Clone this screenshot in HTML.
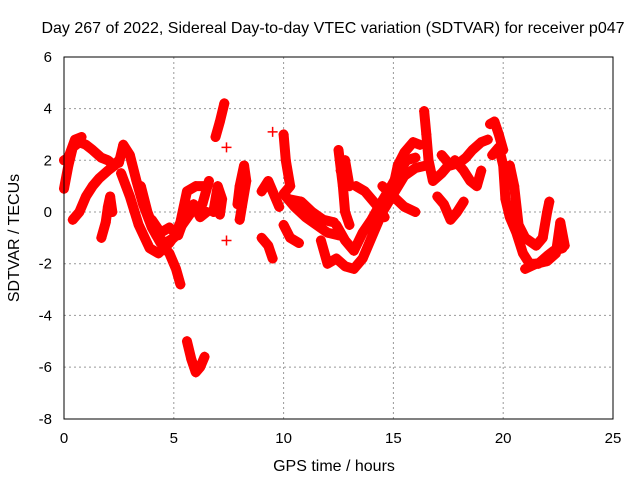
<!DOCTYPE html>
<html><head><meta charset="utf-8"><style>
body{margin:0;background:#fff;}
svg{display:block;font-family:"Liberation Sans",sans-serif;}
</style></head><body>
<svg id="chart" width="640" height="480">
<text x="333" y="33" text-anchor="middle" font-size="16">Day 267 of 2022, Sidereal Day-to-day VTEC variation (SDTVAR) for receiver p047</text>
<text x="334" y="471" text-anchor="middle" font-size="16">GPS time / hours</text>
<text transform="translate(19,238) rotate(-90)" text-anchor="middle" font-size="16">SDTVAR / TECUs</text>
<g id="grid"></g><g id="ticks"></g><g id="marks"></g>
<rect x="64" y="57" width="549" height="362" fill="none" stroke="#000" stroke-width="1"/>
</svg>
<script>
const xTicks=[0,5,10,15,20,25];
const yTicks=[-8,-6,-4,-2,0,2,4,6];
const tracks=[
[[0,0.9],[0.2,1.8],[0.4,2.5],[0.7,2.7],[1.0,2.6],[1.3,2.4],[1.7,2.1],[2.0,2.0],[2.3,1.8],[2.5,2.0]],
[[0.4,-0.3],[0.7,0.0],[1.0,0.6],[1.3,1.0],[1.6,1.3],[2.0,1.6],[2.3,1.8]],
[[0,2.0],[0.2,2.1],[0.5,2.8],[0.8,2.9]],
[[1.7,-1.0],[1.9,-0.4],[2.0,0.2],[2.1,0.6],[2.2,0.0]],
[[2.5,1.9],[2.7,2.6],[3.0,2.2],[3.3,1.2],[3.6,0.3],[4.0,-0.6],[4.4,-1.2],[4.8,-1.6],[5.1,-2.2],[5.3,-2.8]],
[[3.5,1.0],[3.8,0.0],[4.2,-0.9],[4.6,-1.2],[5.0,-1.0],[5.3,-0.4],[5.6,0.8],[6.0,1.0],[6.4,1.0]],
[[2.6,1.5],[3.0,0.6],[3.4,-0.5],[3.9,-1.4],[4.3,-1.6],[4.8,-1.2],[5.3,-0.6],[5.8,0.0],[6.3,0.3],[6.6,1.2]],
[[4.0,-0.3],[4.4,-0.8],[4.8,-0.6],[5.2,-0.9],[5.5,-0.2],[5.9,0.3],[6.2,-0.2],[6.5,0.0]],
[[5.6,-5.0],[5.8,-5.7],[6.0,-6.2],[6.2,-6.0],[6.4,-5.6]],
[[6.9,2.9],[7.1,3.5],[7.3,4.2]],
[[6.8,0.0],[7.0,1.0],[7.2,0.5],[7.1,-0.1]],
[[7.9,0.3],[8.0,1.0],[8.2,1.8],[8.3,1.2],[8.1,0.2],[8.0,-0.3]],
[[9.0,0.8],[9.3,1.2],[9.5,0.8],[9.8,0.2]],
[[9.0,-1.0],[9.3,-1.3],[9.5,-1.8]],
[[10.0,3.0],[10.1,2.0],[10.3,1.0],[10.0,0.7],[10.5,0.2],[11.0,-0.2],[11.5,-0.5],[12.0,-0.8],[12.5,-0.9]],
[[10.2,0.5],[10.8,0.4],[11.3,0.0],[11.8,-0.3],[12.3,-0.4]],
[[10.0,-0.5],[10.3,-1.0],[10.7,-1.2]],
[[11.7,-1.1],[12.0,-2.0],[12.4,-1.8],[12.8,-2.1],[13.2,-2.2],[13.6,-1.8],[14.0,-1.0],[14.5,0.0],[15.0,0.7],[15.5,1.4],[16.0,1.7],[16.5,1.8]],
[[12.4,-0.5],[12.8,-1.1],[13.2,-1.5],[13.6,-0.8],[14.0,-0.3],[14.4,0.3],[14.9,1.0],[15.3,1.6],[15.6,2.0],[16.0,2.1]],
[[12.5,2.4],[12.7,1.0],[12.8,0.0],[13.0,-0.5]],
[[12.6,1.6],[12.8,2.0],[13.0,1.0]],
[[13.3,1.0],[13.7,0.8],[14.2,0.3],[14.6,-0.2]],
[[14.5,1.0],[15.0,0.6],[15.5,0.2],[16.0,0.0]],
[[15.0,1.0],[15.2,1.8],[15.5,2.3],[15.9,2.7],[16.2,2.6]],
[[16.4,3.9],[16.5,3.0],[16.6,2.0],[16.8,1.2],[17.2,1.5],[17.5,1.8]],
[[17.0,0.6],[17.3,0.3],[17.6,-0.3],[17.9,0.0],[18.2,0.4]],
[[17.2,2.2],[17.6,1.8],[18.0,1.9],[18.3,2.1],[18.6,2.4],[19.0,2.7],[19.3,2.8]],
[[17.8,2.0],[18.2,1.6],[18.5,1.2],[18.8,1.0],[19.0,1.6]],
[[19.4,3.4],[19.6,3.5],[19.8,3.0],[20.0,2.4]],
[[19.5,2.2],[19.8,2.5],[20.0,1.8],[20.1,0.5],[20.3,-0.2],[20.6,-0.8],[20.9,-1.6],[21.2,-2.0],[21.6,-2.0],[22.0,-1.7],[22.3,-1.5],[22.7,-1.4]],
[[20.3,1.8],[20.5,1.0],[20.7,-0.5],[21.0,-1.0],[21.5,-1.3],[21.8,-1.0],[22.0,0.0],[22.1,0.4]],
[[21.0,-2.2],[21.5,-2.0],[22.0,-1.9],[22.4,-1.6],[22.6,-0.4],[22.8,-1.3]],
[[7.4,2.5]],[[7.4,-1.1]],[[9.5,3.1]]
];
const X=v=>64+v*549/25;
const Y=v=>212-v*362/14;
const NS="http://www.w3.org/2000/svg";
const grid=document.getElementById('grid'),ticks=document.getElementById('ticks'),marks=document.getElementById('marks');
function mk(tag,attrs,parent){const e=document.createElementNS(NS,tag);for(const k in attrs)e.setAttribute(k,attrs[k]);parent.appendChild(e);return e;}
xTicks.forEach(t=>{
 if(t>0&&t<25){const g=mk('line',{x1:X(t),x2:X(t),y1:57,y2:419,stroke:'#999','stroke-dasharray':'2,3'},grid);
 
 }
 const l=mk('text',{x:X(t),y:443,'text-anchor':'middle','font-size':'15'},ticks);l.textContent=t;
 
 
});
yTicks.forEach(t=>{
 if(t>-8&&t<6){const g=mk('line',{x1:64,x2:613,y1:Y(t),y2:Y(t),stroke:'#999','stroke-dasharray':'2,3'},grid);
 
 }
 const l=mk('text',{x:52,y:Y(t)+5,'text-anchor':'end','font-size':'15'},ticks);l.textContent=t;
 
 
});
tracks.forEach(tr=>{
 if(tr.length>1){const p=mk('polyline',{points:tr.map(d=>X(d[0])+','+Y(d[1])).join(' '),fill:'none',stroke:'#f00','stroke-width':'10','stroke-linejoin':'round','stroke-linecap':'round'},marks);
 
 }
 tr.forEach(d=>{const x=X(d[0]),y=Y(d[1]);
  const m=mk('path',{d:`M${x-5},${y}H${x+5}M${x},${y-5}V${y+5}`,stroke:'#f00','stroke-width':'1.5'},marks);
  
  });
});
</script>
</body></html>
